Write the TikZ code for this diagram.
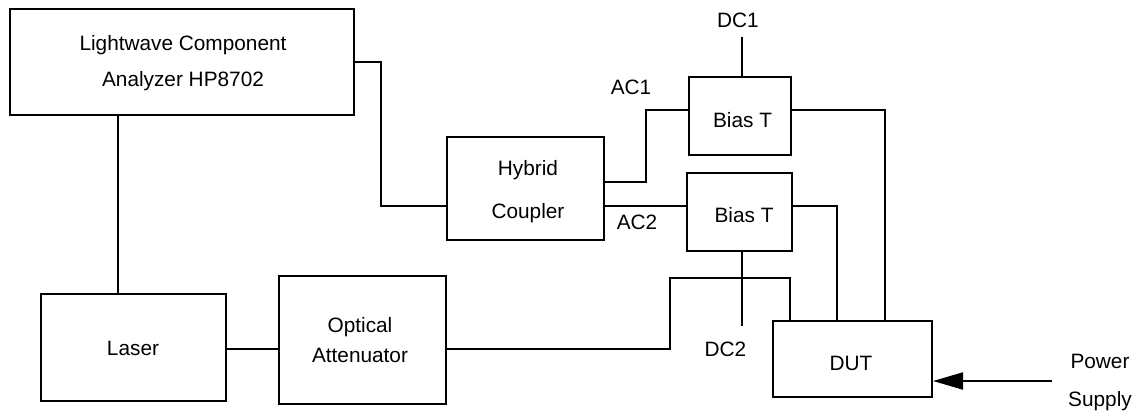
\documentclass[tikz,border=0pt]{standalone}
\usepackage{fontspec}
\setmainfont{Liberation Sans}
\usetikzlibrary{arrows.meta}
\begin{document}
\begin{tikzpicture}[x=1pt,y=-1pt,
  blk/.style={draw, rectangle, line width=2pt, inner sep=0pt},
  wire/.style={draw, line width=2pt},
  txt/.style={inner sep=0pt, font=\fontsize{20.8}{25}\selectfont}]
\useasboundingbox (0,0) rectangle (1140,416);
% boxes
\node[blk, minimum width=344pt, minimum height=106pt] (lca) at (182,62) {};
\node[blk, minimum width=185pt, minimum height=107pt] (laser) at (133.5,347.5) {};
\node[blk, minimum width=167pt, minimum height=128pt] (att) at (362.5,340) {};
\node[blk, minimum width=157pt, minimum height=103pt] (hyb) at (525.5,188.5) {};
\node[blk, minimum width=102pt, minimum height=78pt] (bt1) at (740,116) {};
\node[blk, minimum width=105pt, minimum height=78pt] (bt2) at (739.5,212) {};
\node[blk, minimum width=159pt, minimum height=76pt] (dut) at (852.5,359) {};
% texts
\node[txt, align=center, font=\fontsize{20.8}{36}\selectfont] (lcat) at (183,63.6) {Lightwave Component\\Analyzer HP8702};
\node[txt] (lasert) at (133,348.5) {Laser};
\node[txt, align=center, font=\fontsize{20.8}{30}\selectfont] (attt) at (360,340) {Optical\\Attenuator};
\node[txt, align=center, font=\fontsize{20.8}{43}\selectfont] (hybt) at (528,192) {Hybrid\\Coupler};
\node[txt] (bt1t) at (742.5,120) {Bias T};
\node[txt] (bt2t) at (744,215) {Bias T};
\node[txt] (dutt) at (851,363) {DUT};
\node[txt] (dc1) at (738,20) {DC1};
\node[txt] (dc2) at (725.5,349.5) {DC2};
\node[txt] (ac1) at (631,87) {AC1};
\node[txt] (ac2) at (637,222) {AC2};
\node[txt, align=center, font=\fontsize{20.8}{38}\selectfont] (ps) at (1100,382.8) {Power\\Supply};
% free ends
\coordinate (dc1end) at (742,37);
\coordinate (dc2end) at (742,326);
\coordinate (psend) at (1052,381);
% connectors
\draw[wire] (lca.east) -| (381,206) -- (hyb.west |- 0,206);
\draw[wire] (lca.south -| 118,0) -- (laser.north -| 118,0);
\draw[wire] (laser.east |- 0,349) -- (att.west |- 0,349);
\draw[wire] (att.east |- 0,349) -| (670,278) -| (dut.north -| 790,0);
\draw[wire] (hyb.east |- 0,182) -| (646,110) -- (bt1.west |- 0,110);
\draw[wire] (hyb.east |- 0,206) -- (bt2.west |- 0,206);
\draw[wire] (bt1.east |- 0,110) -| (dut.north -| 885,0);
\draw[wire] (bt2.east |- 0,206) -| (dut.north -| 837,0);
\draw[wire] (dc1end) -- (bt1.north -| dc1end);
\draw[wire] (bt2.south -| dc2end) -- (dc2end);
\draw[wire, -{Triangle[length=30pt,width=17pt]}] (psend) -- (dut.east |- psend);
\end{tikzpicture}
\end{document}
